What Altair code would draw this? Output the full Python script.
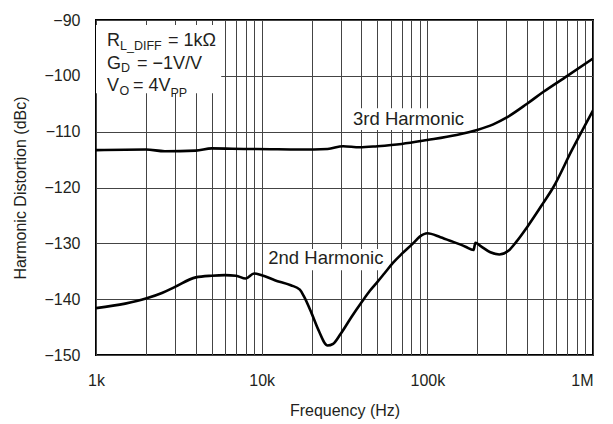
import altair as alt
import pandas as pd

# ---- data ----
freq_3rd = [1000, 2000, 2600, 4000, 5000, 8800, 9200, 17000, 25000, 31000, 39000,
            50000, 70000, 100000, 150000, 200000, 250000, 300000, 400000, 500000,
            700000, 1000000]
db_3rd = [-113.3, -113.2, -113.5, -113.4, -113.0, -113.1, -113.1, -113.2, -113.1,
          -112.6, -112.8, -112.6, -112.2, -111.5, -110.6, -109.7, -108.7, -107.5,
          -105.0, -102.9, -100.0, -96.9]

freq_2nd = [1000, 1500, 2000, 2500, 3000, 4000, 5000, 6000, 7000, 8000, 9000, 10000,
            12000, 15000, 17000, 18000, 20000, 22000, 25000, 27000, 30000, 35000,
            40000, 45000, 50000, 55000, 62000, 70000, 82000, 90000, 100000, 120000,
            142000, 170000, 190000, 195000, 210000, 240000, 272000, 310000, 345000,
            400000, 500000, 575000, 743000, 1000000]
db_2nd = [-141.6, -140.8, -139.9, -138.9, -137.8, -136.1, -135.8, -135.7, -135.8,
          -136.3, -135.4, -135.7, -136.6, -137.5, -138.3, -139.5, -142.5, -145.5,
          -148.3, -148.0, -146.2, -143.1, -140.6, -138.5, -136.9, -135.4, -133.5,
          -131.9, -130.0, -128.8, -128.2, -128.9, -129.7, -130.6, -131.2, -129.9,
          -130.5, -131.6, -132.0, -131.3, -129.7, -127.1, -122.8, -120.0, -113.4,
          -106.2]

x_grid = [m * 10 ** e for e in (3, 4, 5) for m in range(1, 10)] + [1000000]
y_ticks = [-150, -140, -130, -120, -110, -100, -90]

FONT = "Liberation Sans"
TXT = "#231f20"

df = pd.concat([
    pd.DataFrame({"freq": freq_3rd, "db": db_3rd, "series": "3rd"}),
    pd.DataFrame({"freq": freq_2nd, "db": db_2nd, "series": "2nd"}),
])

xscale = alt.Scale(type="log", domain=[1000, 1000000], nice=False)
yscale = alt.Scale(domain=[-150, -90], nice=False)

xaxis = alt.Axis(
    values=x_grid, title="Frequency (Hz)", grid=True, ticks=False, domain=False,
    labelExpr="datum.value == 1000 ? '1k' : datum.value == 10000 ? '10k' : "
              "datum.value == 100000 ? '100k' : datum.value == 1000000 ? '1M' : ''",
    labelOverlap=False, labelFlush=False,
    labelAlign={"condition": {"test": "datum.value >= 1000000", "value": "right"}, "value": "center"},
    labelPadding=17, titlePadding=14,
)
yaxis = alt.Axis(
    values=y_ticks, title="Harmonic Distortion (dBc)", grid=True, ticks=False,
    domain=False, labelPadding=16, titlePadding=15,
)

base = alt.Chart(df)

lines = base.mark_line(color="black", strokeWidth=2.6, interpolate="monotone", clip=True).encode(
    x=alt.X("freq:Q", scale=xscale, axis=xaxis),
    y=alt.Y("db:Q", scale=yscale, axis=yaxis),
    detail="series:N",
)

# white boxes behind annotations
boxes = alt.Chart(pd.DataFrame({
    "x1": [1000, 31000, 10300],
    "x2": [5700, 181000, 56000],
    "y1": [-90.9, -105.8, -131.0],
    "y2": [-103.1, -109.7, -134.8],
})).mark_rect(color="white").encode(
    x=alt.X("x1:Q", scale=xscale), x2="x2:Q",
    y=alt.Y("y1:Q", scale=yscale), y2="y2:Q",
)

labels = alt.Chart(pd.DataFrame({
    "freq": [77000, 24400],
    "db": [-107.7, -132.7],
    "t": ["3rd Harmonic", "2nd Harmonic"],
})).mark_text(font=FONT, fontSize=18.5, color=TXT, baseline="middle", align="center").encode(
    x=alt.X("freq:Q", scale=xscale), y=alt.Y("db:Q", scale=yscale), text="t:N"
)


def txt(t, x, y, size):
    return alt.Chart(pd.DataFrame({"t": [t]})).mark_text(
        font=FONT, fontSize=size, color=TXT, align="left", baseline="alphabetic"
    ).encode(x=alt.value(x), y=alt.value(y), text="t:N")


legend = [
    txt("R", 11, 26, 18), txt("L_DIFF", 24, 30, 12.5), txt("= 1kΩ", 72, 26, 18),
    txt("G", 11, 48.5, 18), txt("D", 25, 52, 12.5), txt("= −1V/V", 41, 48.5, 18),
    txt("V", 11, 71, 18), txt("O", 23.5, 74.5, 12.5), txt("= 4V", 37, 71, 18),
    txt("PP", 74.5, 77, 12.5),
]

chart = alt.layer(boxes, lines, labels, *legend).properties(
    width=497, height=335,
    autosize=alt.AutoSizeParams(type="none"),
    padding={"left": 88, "top": 12, "right": 12, "bottom": 66},
).configure_view(
    stroke="black", strokeWidth=2
).configure_axis(
    gridColor="#444", gridWidth=1, gridOpacity=1,
    labelFont=FONT, labelFontSize=16, labelColor=TXT,
    titleFont=FONT, titleFontSize=16, titleColor=TXT, titleFontWeight="normal",
)

chart.save("out.html", embed_options={"renderer": "svg", "actions": False})
